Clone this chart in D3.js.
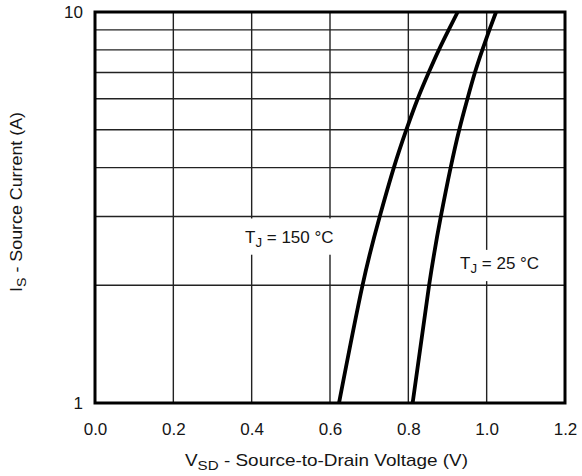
<!DOCTYPE html>
<html>
<head>
<meta charset="utf-8">
<script src="https://cdn.jsdelivr.net/npm/d3@7/dist/d3.min.js"></script>
<style>
  html, body { margin: 0; padding: 0; background: #fff; }
  svg { display: block; font-family: "Liberation Sans", Arial, Helvetica, sans-serif; }
</style>
</head>
<body>
<svg id="chart" width="582" height="476"></svg>
<script>
// ---- Data ----
const xTickValues = [0.0, 0.2, 0.4, 0.6, 0.8, 1.0, 1.2];
const xTickLabels = ["0.0", "0.2", "0.4", "0.6", "0.8", "1.0", "1.2"];
const yGridValues = [1, 2, 3, 4, 5, 6, 7, 8, 9, 10];
const yTickValues = [1, 10];
const yTickLabels = ["1", "10"];

const current = [1, 2, 3, 4, 5, 6, 7, 8, 9, 10];               // I_S (A)
const vsd150 = [0.623, 0.683, 0.727, 0.763, 0.795, 0.824, 0.852, 0.878, 0.903, 0.926]; // T_J = 150 °C
const vsd25  = [0.811, 0.853, 0.883, 0.908, 0.930, 0.951, 0.970, 0.989, 1.007, 1.024]; // T_J = 25 °C

const seriesNames = ["150", "25"];

// ---- Layout ----
const svg = d3.select("#chart");
const margin = { left: 95, right: 17, top: 12, bottom: 73 };
const W = 582, H = 476;
const x0 = margin.left, x1 = W - margin.right;
const y0 = H - margin.bottom, y1 = margin.top;

const x = d3.scaleLinear().domain([0, 1.2]).range([x0, x1]);
const y = d3.scaleLog().domain([1, 10]).range([y0, y1]);

const ink = "#151515";
const fontSize = 17;

// Grid
const grid = svg.append("g");
grid.selectAll("line.v").data(xTickValues.slice(1, -1)).join("line")
  .attr("x1", d => x(d)).attr("x2", d => x(d))
  .attr("y1", y0).attr("y2", y1)
  .attr("stroke", "#222").attr("stroke-width", 1.4);
grid.selectAll("line.h").data(yGridValues.slice(1, -1)).join("line")
  .attr("x1", x0).attr("x2", x1)
  .attr("y1", d => y(d)).attr("y2", d => y(d))
  .attr("stroke", "#222").attr("stroke-width", 1.4);

// Annotations (with white background boxes that interrupt the grid)
const annotations = [
  { name: "150", v: 0.383, i: 2.57, padL: 6, padR: 6, padT: 12, padB: 12 },
  { name: "25",  v: 0.932, i: 2.20, padL: 5, padR: 5, padT: 7,  padB: 12 }
];
const annoG = svg.append("g");
annotations.forEach(a => {
  const bg = annoG.append("rect").attr("fill", "#fff");
  const t = annoG.append("text")
    .attr("x", x(a.v)).attr("y", y(a.i))
    .attr("font-size", fontSize).attr("fill", ink);
  t.append("tspan").text("T");
  t.append("tspan").attr("font-size", fontSize * 0.78).attr("dy", 4).text("J");
  t.append("tspan").attr("dy", -4).text(" = " + a.name + " °C");
  const bb = t.node().getBBox();
  const base = y(a.i);
  const capTop = base - fontSize * 0.72;
  bg.attr("x", bb.x - a.padL).attr("width", bb.width + a.padL + a.padR)
    .attr("y", capTop - a.padT).attr("height", a.padT + a.padB + fontSize * 0.72);
});

// Curves
const line = d3.line()
  .x(d => x(d[0])).y(d => y(d[1]))
  .curve(d3.curveNatural);
[vsd150, vsd25].forEach((vals, k) => {
  svg.append("path")
    .datum(vals.map((v, j) => [v, current[j]]))
    .attr("d", line)
    .attr("fill", "none").attr("stroke", "#000")
    .attr("stroke-width", 3.8).attr("stroke-linecap", "butt")
    .attr("class", "series-" + seriesNames[k]);
});

// Frame
svg.append("rect")
  .attr("x", x0).attr("y", y1).attr("width", x1 - x0).attr("height", y0 - y1)
  .attr("fill", "none").attr("stroke", "#000").attr("stroke-width", 3);

// X tick labels (via axis)
const xAxis = d3.axisBottom(x).tickValues(xTickValues)
  .tickFormat((d, i) => xTickLabels[i]).tickSize(0).tickPadding(0);
const xg = svg.append("g").attr("transform", `translate(0,${y0})`).call(xAxis);
xg.select(".domain").remove();
xg.selectAll("text").attr("font-size", fontSize).attr("fill", ink)
  .attr("font-family", null).attr("dy", null).attr("y", 32);

// Y tick labels (via axis)
const yAxis = d3.axisLeft(y).tickValues(yTickValues)
  .tickFormat((d, i) => yTickLabels[i]).tickSize(0).tickPadding(12);
const yg = svg.append("g").attr("transform", `translate(${x0},0)`).call(yAxis);
yg.select(".domain").remove();
yg.selectAll("text").attr("font-size", fontSize).attr("fill", ink).attr("font-family", null);

// X axis title
const xt = svg.append("text")
  .attr("x", 185).attr("y", 466)
  .attr("font-size", fontSize).attr("fill", ink)
  .attr("textLength", 283).attr("lengthAdjust", "spacingAndGlyphs");
xt.append("tspan").text("V");
xt.append("tspan").attr("font-size", fontSize * 0.8).attr("dy", 4).text("SD");
xt.append("tspan").attr("dy", -4).text(" - Source-to-Drain Voltage (V)");

// Y axis title
const yt = svg.append("text")
  .attr("transform", "translate(22,292) rotate(-90)")
  .attr("x", 0).attr("y", 0)
  .attr("font-size", fontSize).attr("fill", ink)
  .attr("textLength", 180).attr("lengthAdjust", "spacingAndGlyphs");
yt.append("tspan").text("I");
yt.append("tspan").attr("font-size", fontSize * 0.8).attr("dy", 4).text("S");
yt.append("tspan").attr("dy", -4).text(" - Source Current (A)");
</script>
</body>
</html>
